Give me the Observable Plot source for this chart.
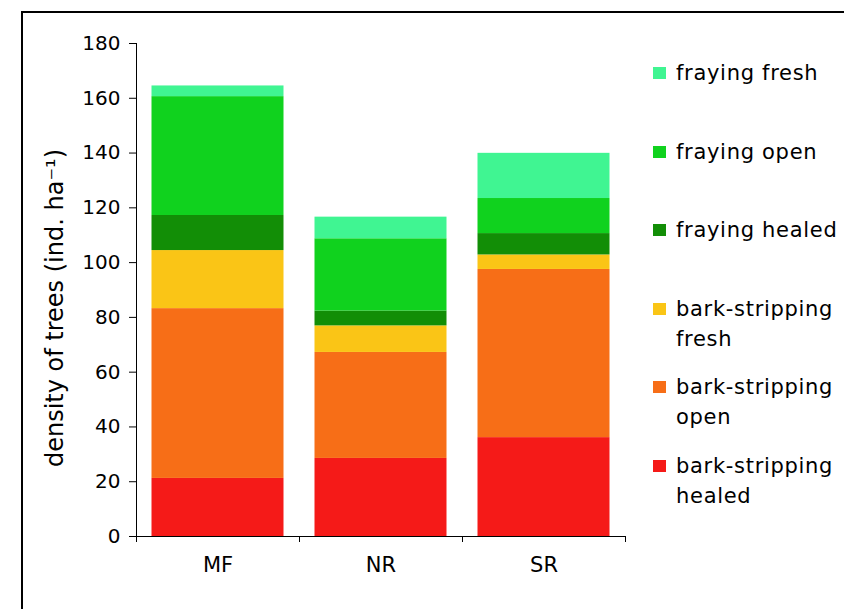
<!DOCTYPE html>
<html><head><meta charset="utf-8">
<script src="https://cdn.jsdelivr.net/npm/d3@7"></script>
<script src="https://cdn.jsdelivr.net/npm/@observablehq/plot@0.6"></script>
<style>
html,body{margin:0;padding:0;background:#fff;}
#wrap{position:relative;width:844px;height:609px;overflow:hidden;font-family:"DejaVu Sans",sans-serif;}
#frame{position:absolute;left:21px;top:11px;width:830px;height:610px;border-top:2px solid #000;border-left:2px solid #000;pointer-events:none;}
#chart{position:absolute;left:0;top:0;}
#legend{position:absolute;left:653px;top:0;width:190px;height:609px;}
.item{position:absolute;left:0;width:190px;}
.sw{position:absolute;left:0;width:13px;height:12px;}
.lab{position:absolute;left:23px;width:170px;font-size:21px;line-height:30px;letter-spacing:0.7px;color:#000;}
</style>
</head><body>
<div id="wrap"><div id="chart"></div><div id="legend"></div><div id="frame"></div></div>
<script>
const sites = ["MF", "NR", "SR"];
const series = ["bark-stripping healed", "bark-stripping open", "bark-stripping fresh", "fraying healed", "fraying open", "fraying fresh"];
const colors = ["#F51A18", "#F76E17", "#FAC516", "#128E06", "#10D21E", "#40F592"];
const mfValues = [21.2, 62.0, 21.2, 12.8, 43.4, 3.9];
const nrValues = [28.5, 38.7, 9.7, 5.4, 26.4, 7.9];
const srValues = [36.1, 61.4, 5.3, 7.8, 12.8, 16.5];
const yTicks = [0, 20, 40, 60, 80, 100, 120, 140, 160, 180];
const yTitle = "density of trees (ind. ha\u207B\u00B9)";

const valuesBySite = [mfValues, nrValues, srValues];
const rows = [];
valuesBySite.forEach((vals, i) => {
  let acc = 0;
  vals.forEach((v, j) => {
    rows.push({site: sites[i], i, series: series[j], y1: acc, y2: acc + v});
    acc += v;
  });
});

const chart = Plot.plot({
  width: 844, height: 609,
  marginLeft: 136, marginRight: 219, marginTop: 43, marginBottom: 73,
  style: {fontFamily: "DejaVu Sans", fontSize: "20px", color: "#000", background: "transparent"},
  x: {type: "linear", domain: [0, sites.length]},
  y: {domain: [0, 180]},
  color: {domain: series, range: colors},
  marks: [
    Plot.rect(rows, {x1: d => d.i, x2: d => d.i + 1, y1: "y1", y2: "y2", fill: "series", insetLeft: 15.5, insetRight: 15.5}),
    Plot.axisY({ticks: yTicks, tickSize: 7, tickPadding: 9, label: null, fontSize: 20}),
    Plot.ruleX([0], {stroke: "#000"}),
    Plot.ruleY([0], {stroke: "#000"}),
    Plot.axisX({ticks: d3.range(sites.length + 1), tickSize: 6, tickFormat: () => "", label: null}),
    Plot.axisX({ticks: sites.map((s, i) => i + 0.5), tickSize: 0, tickPadding: 21, tickFormat: d => sites[Math.floor(d)], label: null, fontSize: 21}),
    Plot.text([yTitle], {text: d => d, frameAnchor: "left", textAnchor: "middle", rotate: -90, dx: -81, dy: 18, fontSize: 24, fill: "#000"})
  ]
});
document.getElementById("chart").appendChild(chart);

const legend = document.getElementById("legend");
const order = series.slice().reverse();
order.forEach((name, k) => {
  const top = 58 + k * 78.6;
  const item = document.createElement("div");
  item.className = "item";
  item.style.top = top + "px";
  const sw = document.createElement("div");
  sw.className = "sw";
  sw.style.top = "9px";
  sw.style.background = colors[series.indexOf(name)];
  const lab = document.createElement("div");
  lab.className = "lab";
  lab.style.top = "0px";
  lab.textContent = name;
  item.appendChild(sw);
  item.appendChild(lab);
  legend.appendChild(item);
});
</script>
</body></html>
